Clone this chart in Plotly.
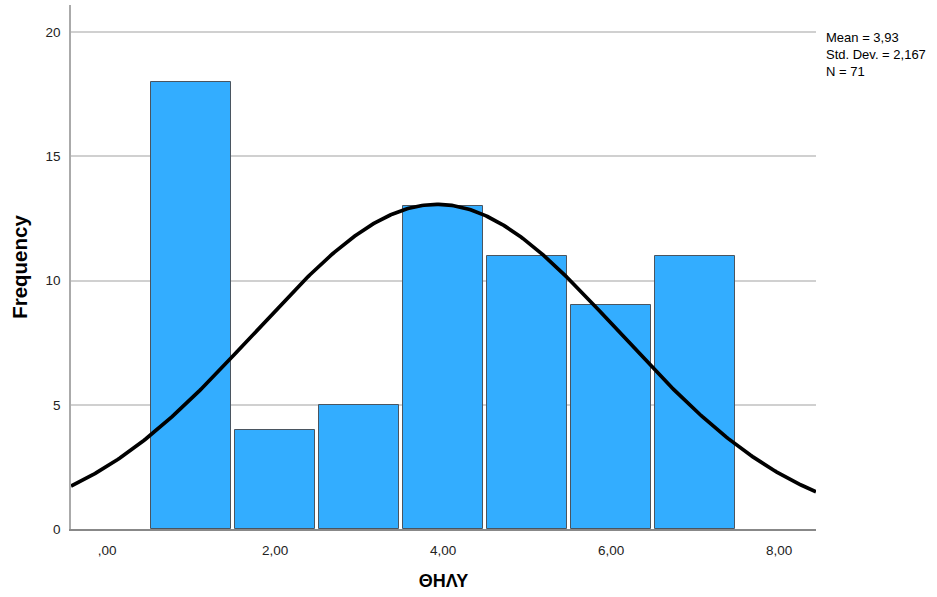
import numpy as np
import plotly.graph_objects as go

# Data
bin_centers = [1, 2, 3, 4, 5, 6, 7]
frequencies = [18, 4, 5, 13, 11, 9, 11]
mean_val = 3.93
std_val = 2.167
n_val = 71
stats_lines = ["Mean = 3,93", "Std. Dev. = 2,167", "N = 71"]
x_tick_vals = [0, 2, 4, 6, 8]
x_tick_text = [",00", "2,00", "4,00", "6,00", "8,00"]
y_tick_vals = [0, 5, 10, 15, 20]

x_range = [-0.43, 8.44]
y_range = [0, 21.1]

fig = go.Figure()
fig.add_trace(go.Bar(
    x=bin_centers, y=frequencies, width=0.95,
    marker=dict(color="#33adff", line=dict(color="#4a5560", width=1)),
    hoverinfo="x+y", showlegend=False,
))

xs = np.linspace(x_range[0], x_range[1], 400)
ys = n_val * 1.0 * np.exp(-0.5 * ((xs - mean_val) / std_val) ** 2) / (std_val * np.sqrt(2 * np.pi))
fig.add_trace(go.Scatter(x=xs, y=ys, mode="lines",
                         line=dict(color="black", width=3.7), showlegend=False))

plot_h = 524.0
fig.add_annotation(
    xref="paper", yref="paper", x=1.0107, y=1 - (55 - 5) / plot_h,
    xanchor="left", yanchor="middle",
    text="<br>".join(stats_lines), showarrow=False, align="left",
    font=dict(family="Liberation Sans, Arial", size=13, color="black"),
)

fig.update_layout(
    width=937, height=597,
    margin=dict(l=71, r=121, t=5, b=68),
    plot_bgcolor="white", paper_bgcolor="white",
    font=dict(family="Liberation Sans, Arial", size=13.5, color="#222"),
    bargap=0,
)
fig.update_xaxes(
    range=x_range, tickvals=x_tick_vals, ticktext=x_tick_text,
    showgrid=False, zeroline=False, showline=True, linecolor="#888", linewidth=2,
    ticks="", ticklabelstandoff=8,
    title=dict(text="<b>ΘΗΛΥ</b>", font=dict(size=18, color="black", family="Liberation Sans, Arial"), standoff=17),
    tickfont=dict(size=13.5, color="#222"),
)
fig.update_yaxes(
    range=y_range, tickvals=y_tick_vals,
    showgrid=True, gridcolor="#d0d0d0", gridwidth=1.5, zeroline=False,
    showline=True, linecolor="#aaa", linewidth=1.5,
    ticks="", ticklabelstandoff=6,
    title=dict(text="<b>Frequency</b>", font=dict(size=20.5, color="black", family="Liberation Sans, Arial"), standoff=12),
    tickfont=dict(size=13.5, color="#222"),
)

fig.write_html("out.html", config={"displayModeBar": False},
               post_script="document.body.style.margin='0';document.body.style.padding='0';")
